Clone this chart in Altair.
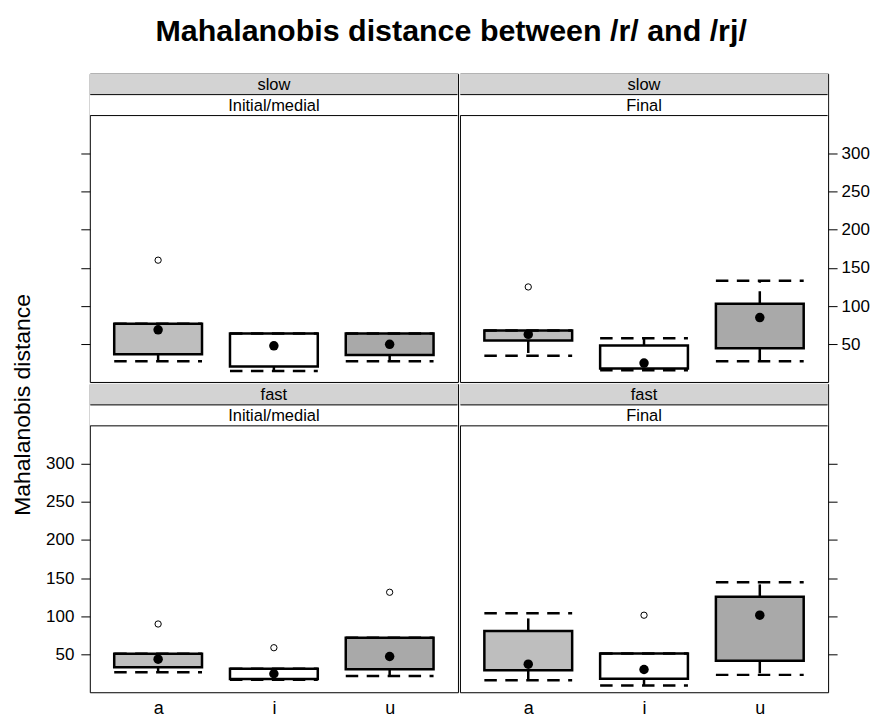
import altair as alt
import pandas as pd

FONT = "Liberation Sans"

cats = ["a", "i", "u"]
speeds = ["slow", "slow", "fast", "fast"]
positions = ["Initial/medial", "Final", "Initial/medial", "Final"]
box_fills = ["#BEBEBE", "#FFFFFF", "#A9A9A9"]

# per panel (slow I/M, slow Final, fast I/M, fast Final), per vowel a, i, u
low = [[28, 15, 28], [35, 16, 28], [27, 17, 22], [16.5, 9.5, 23.5]]
q1 = [[37, 21, 36], [55, 18.5, 45], [33.5, 18, 31], [29.5, 18.5, 42]]
med = [[69, 48, 50], [63, 25.5, 85], [44, 25, 47.5], [37.5, 30.5, 101.5]]
q3 = [[77, 64, 64], [68, 48.5, 103], [51, 31.5, 72], [81, 51.5, 125.5]]
high = [[77, 64, 64], [68, 58, 133], [51, 31.5, 72], [104, 51.5, 144.5]]

out_panel = [0, 1, 2, 2, 2, 3]
out_cat = ["a", "a", "a", "i", "u", "i"]
out_val = [160, 125, 90, 59, 131.5, 101.5]

y_ticks = [50, 100, 150, 200, 250, 300]
# the top 42 px of each panel hold the two strips
YDOM = [0.8, 403.8]

W = 369
H = 309
STRIP = 21
BOXW = 88
DASH = [12.5, 8.5]


def panel(k, side, labels, bottom):
    df = pd.DataFrame({
        "cat": cats,
        "low": low[k],
        "q1": q1[k],
        "med": med[k],
        "q3": q3[k],
        "high": high[k],
        "fill": box_fills,
    })
    odf = pd.DataFrame({
        "cat": [c for p, c in zip(out_panel, out_cat) if p == k],
        "val": [v for p, v in zip(out_panel, out_val) if p == k],
    })
    lab = pd.DataFrame({"speed": [speeds[k]], "pos": [positions[k]]})

    xscale = alt.Scale(type="point", domain=cats, padding=0.59)
    if bottom:
        xaxis = alt.Axis(ticks=False, domain=False, labelPadding=7, labelFontSize=18,
                         labelFont=FONT, labelColor="black", labelAngle=0, title=None, grid=False)
    else:
        xaxis = None
    yscale = alt.Scale(domain=YDOM, nice=False, zero=False)
    yaxis = alt.Axis(orient=side, values=y_ticks, tickSize=9, tickColor="black", tickWidth=1,
                     labelPadding=7 if side == "left" else 4, labelFontSize=17, labelFont=FONT,
                     labelColor="black", labelOpacity=1 if labels else 0,
                     domain=False, grid=False, title=None)

    def X():
        return alt.X("cat:N", scale=xscale, axis=xaxis)

    def Y(f):
        return alt.Y(f + ":Q", scale=yscale, axis=yaxis)

    base = alt.Chart(df)
    box = base.mark_rect(xOffset=-BOXW / 2, x2Offset=BOXW / 2, stroke="black", strokeWidth=2.5).encode(
        x=X(), x2=alt.X2("cat"), y=Y("q1"), y2=alt.Y2("q3"),
        fill=alt.Fill("fill:N", scale=None)
    )
    wh_up = base.mark_rule(color="black", strokeWidth=2.5, strokeDash=DASH).encode(
        x=X(), y=Y("q3"), y2=alt.Y2("high")
    )
    wh_dn = base.mark_rule(color="black", strokeWidth=2.5, strokeDash=DASH).encode(
        x=X(), y=Y("q1"), y2=alt.Y2("low")
    )
    st_up = base.mark_rule(color="black", strokeWidth=2.5, strokeDash=DASH,
                           xOffset=-BOXW / 2, x2Offset=BOXW / 2).encode(
        x=X(), x2=alt.X2("cat"), y=Y("high")
    )
    st_dn = base.mark_rule(color="black", strokeWidth=2.5, strokeDash=DASH,
                           xOffset=-BOXW / 2, x2Offset=BOXW / 2).encode(
        x=X(), x2=alt.X2("cat"), y=Y("low")
    )
    dot = base.mark_point(filled=True, shape="circle", color="black", size=90, opacity=1).encode(
        x=X(), y=Y("med")
    )
    outl = alt.Chart(odf).mark_point(filled=False, shape="circle", color="black", size=40,
                                     strokeWidth=1, opacity=1).encode(
        x=alt.X("cat:N", scale=xscale, axis=xaxis), y=alt.Y("val:Q", scale=yscale, axis=yaxis)
    )

    # strips (two levels) at the top of the panel
    lb = alt.Chart(lab)
    s1 = lb.mark_rect(fill="#D3D3D3").encode(
        x=alt.value(0), x2=alt.value(W), y=alt.value(0), y2=alt.value(STRIP))
    s2 = lb.mark_rect(fill="#FFFFFF").encode(
        x=alt.value(0), x2=alt.value(W), y=alt.value(STRIP), y2=alt.value(2 * STRIP))
    l1 = lb.mark_rule(color="black", strokeWidth=1).encode(
        x=alt.value(0.5), x2=alt.value(W - 0.5), y=alt.value(STRIP))
    l2 = lb.mark_rule(color="black", strokeWidth=1).encode(
        x=alt.value(0.5), x2=alt.value(W - 0.5), y=alt.value(2 * STRIP))
    t1 = lb.mark_text(font=FONT, fontSize=16.5, color="black").encode(
        x=alt.value(W / 2), y=alt.value(STRIP / 2 + 1), text="speed:N")
    t2 = lb.mark_text(font=FONT, fontSize=16.5, color="black").encode(
        x=alt.value(W / 2), y=alt.value(STRIP * 1.5 + 1), text="pos:N")

    layers = [s1, s2, l1, l2, t1, t2, box, wh_up, wh_dn, st_up, st_dn, dot, outl]
    return alt.layer(*layers).properties(width=W, height=H)


grid = alt.concat(
    panel(0, "left", False, False),
    panel(1, "right", True, False),
    panel(2, "left", True, True),
    panel(3, "right", False, True),
    columns=2, spacing=0,
)

ytitle = alt.Chart(pd.DataFrame({"t": ["Mahalanobis distance"]})).mark_text(
    angle=270, fontSize=23, font=FONT, color="black"
).encode(x=alt.value(14), y=alt.value(332), text="t:N").properties(
    width=28, height=619, view=alt.ViewBackground(stroke="transparent")
)

chart = alt.hconcat(ytitle, grid, spacing=7).properties(
    title=alt.TitleParams(
        text="Mahalanobis distance between /r/ and /rj/",
        fontSize=30.5, font=FONT, fontWeight="bold", color="black",
        anchor="middle", offset=26, dx=12,
    ),
    padding={"left": 0, "top": 8, "right": 0, "bottom": 0},
).configure_view(stroke="black", strokeWidth=1)

chart.save("out.html", embed_options={"renderer": "svg", "actions": False})
